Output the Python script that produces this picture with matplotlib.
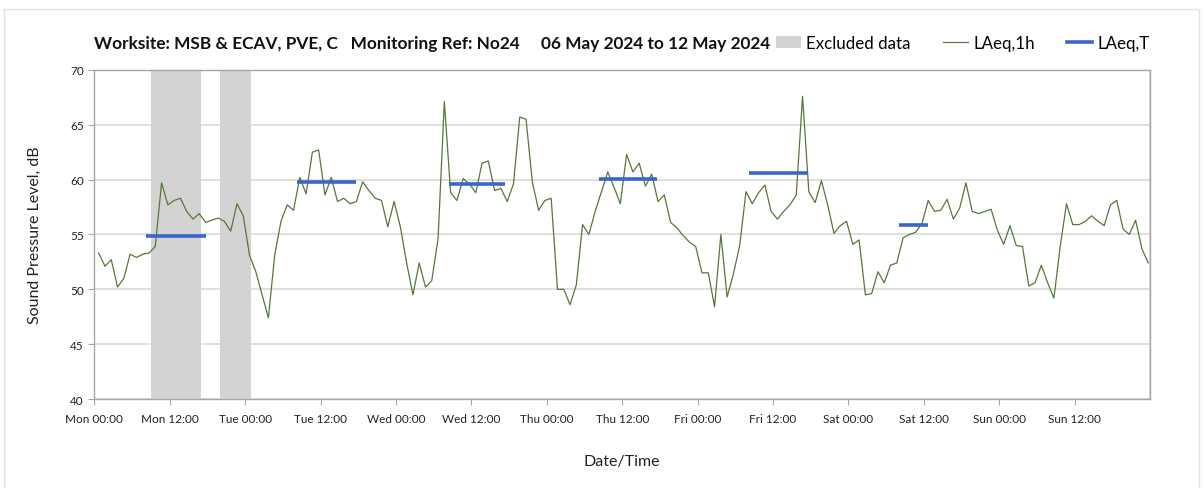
import numpy as np
import matplotlib
matplotlib.use('Agg')
import matplotlib.pyplot as plt
from matplotlib.patches import Patch, Rectangle
from matplotlib.lines import Line2D

plt.rcParams['font.family'] = ['Lato', 'DejaVu Sans']

# hourly LAeq,1h readings, Mon 06 May 2024 onwards (dB)
laeq_1h = [
    53.3, 52.1, 52.7, 50.2, 51.0, 53.2, 52.9, 53.2, 53.3, 53.9,
    59.7, 57.7, 58.1, 58.3, 57.1, 56.4, 56.9, 56.1, 56.3, 56.5,
    56.2, 55.3, 57.8, 56.7, 53.1, 51.6, 49.5, 47.4, 53.1, 56.2,
    57.7, 57.2, 60.2, 58.7, 62.5, 62.7, 58.6, 60.2, 58.0, 58.3,
    57.8, 58.0, 59.8, 59.0, 58.3, 58.1, 55.7, 58.0, 55.7, 52.4,
    49.5, 52.4, 50.2, 50.8, 54.6, 67.1, 58.8, 58.1, 60.1, 59.6,
    58.8, 61.5, 61.7, 59.0, 59.2, 58.0, 59.6, 65.7, 65.5, 59.8,
    57.2, 58.1, 58.3, 50.0, 50.0, 48.6, 50.4, 55.9, 55.0, 57.1,
    58.9, 60.7, 59.3, 57.8, 62.3, 60.7, 61.5, 59.4, 60.5, 58.0,
    58.6, 56.1, 55.6, 54.9, 54.3, 53.9, 51.5, 51.5, 48.4, 55.0,
    49.3, 51.4, 54.0, 58.9, 57.8, 58.8, 59.5, 57.1, 56.4, 57.1,
    57.7, 58.6, 67.6, 58.9, 57.9, 59.9, 57.7, 55.1, 55.8, 56.2,
    54.1, 54.5, 49.5, 49.6, 51.6, 50.6, 52.2, 52.4, 54.7, 55.0,
    55.2, 56.0, 58.1, 57.1, 57.2, 58.2, 56.4, 57.4, 59.7, 57.1,
    56.9, 57.1, 57.3, 55.4, 54.1, 55.8, 54.0, 53.9, 50.3, 50.6,
    52.2, 50.6, 49.2, 53.9, 57.8, 55.9, 55.9, 56.2, 56.7, 56.2,
    55.8, 57.7, 58.1, 55.5, 55.0, 56.3, 53.7, 52.4,
]

# LAeq,T periods (hours from Mon 00:00) and levels
laeq_t_start = [8.3, 32.3, 56.4, 80.3, 104.2, 128.1]
laeq_t_end = [17.7, 41.6, 65.4, 89.6, 113.6, 132.6]
laeq_t_level = [54.9, 59.8, 59.6, 60.1, 60.6, 55.9]

# excluded periods (hours from Mon 00:00)
excl_start = [9, 20]
excl_end = [17, 25]

days = ['Mon', 'Tue', 'Wed', 'Thu', 'Fri', 'Sat', 'Sun']
tick_labels = []
for d in days:
    tick_labels += [d + ' 00:00', d + ' 12:00']

hours = np.arange(len(laeq_1h)) + 0.7

green = '#55783a'
blue = '#3a66c8'
grid_c = '#d9d9d9'
frame_c = '#a6a6a6'

fig = plt.figure(figsize=(12.03, 4.89), dpi=100)
ax = fig.add_axes([0.0784, 0.182, 0.8776, 0.673])

# outer chart border
fig.patches.append(Rectangle((0.0035, -0.01), 0.993, 0.99, transform=fig.transFigure,
                             fill=False, edgecolor='#e2e2e2', lw=1.0, zorder=0))

for s, e in zip(excl_start, excl_end):
    ax.axvspan(s, e, color='#d3d3d3', lw=0, zorder=1)

ax.plot(hours, laeq_1h, color=green, lw=0.9, zorder=3)
for s, e, v in zip(laeq_t_start, laeq_t_end, laeq_t_level):
    ax.plot([s, e], [v, v], color=blue, lw=2.6, solid_capstyle='butt', zorder=4)

ax.set_xlim(0, 168)
ax.set_ylim(40, 70)
ax.set_yticks(range(40, 71, 5))
ax.set_xticks(range(0, 168, 12))
ax.set_xticklabels(tick_labels)
ax.set_xticks(range(0, 169, 24), minor=True)

ax.grid(axis='y', color=grid_c, lw=1.2, zorder=0)
ax.grid(axis='x', which='minor', color=grid_c, lw=1.2, zorder=0)
ax.set_axisbelow(True)
for sp in ax.spines.values():
    sp.set_color(frame_c)
    sp.set_linewidth(1.0)
ax.tick_params(axis='both', which='major', direction='out', length=4, color=frame_c,
               labelsize=8.5, labelcolor='#222222')
ax.tick_params(axis='x', which='minor', length=0)
ax.tick_params(axis='x', pad=6)

ax.set_ylabel('Sound Pressure Level, dB', fontsize=11.5, color='#222222', labelpad=20)
ax.set_xlabel('Date/Time', fontsize=11.5, color='#222222', labelpad=22)

fig.text(0.078, 0.91, 'Worksite: MSB & ECAV, PVE, C   Monitoring Ref: No24     06 May 2024 to 12 May 2024',
         fontsize=12.4, fontweight='bold', color='#111111', va='center', ha='left')

handles = [Patch(facecolor='#d3d3d3', edgecolor='none', label='Excluded data'),
           Line2D([0], [0], color=green, lw=0.9, label='LAeq,1h'),
           Line2D([0], [0], color=blue, lw=2.6, label='LAeq,T')]
fig.legend(handles=handles, loc='center left', bbox_to_anchor=(0.632, 0.91), ncol=3,
           frameon=False, fontsize=12.2, handlelength=1.5, handletextpad=0.3,
           columnspacing=1.9)

fig.savefig('out.png', dpi=100)
